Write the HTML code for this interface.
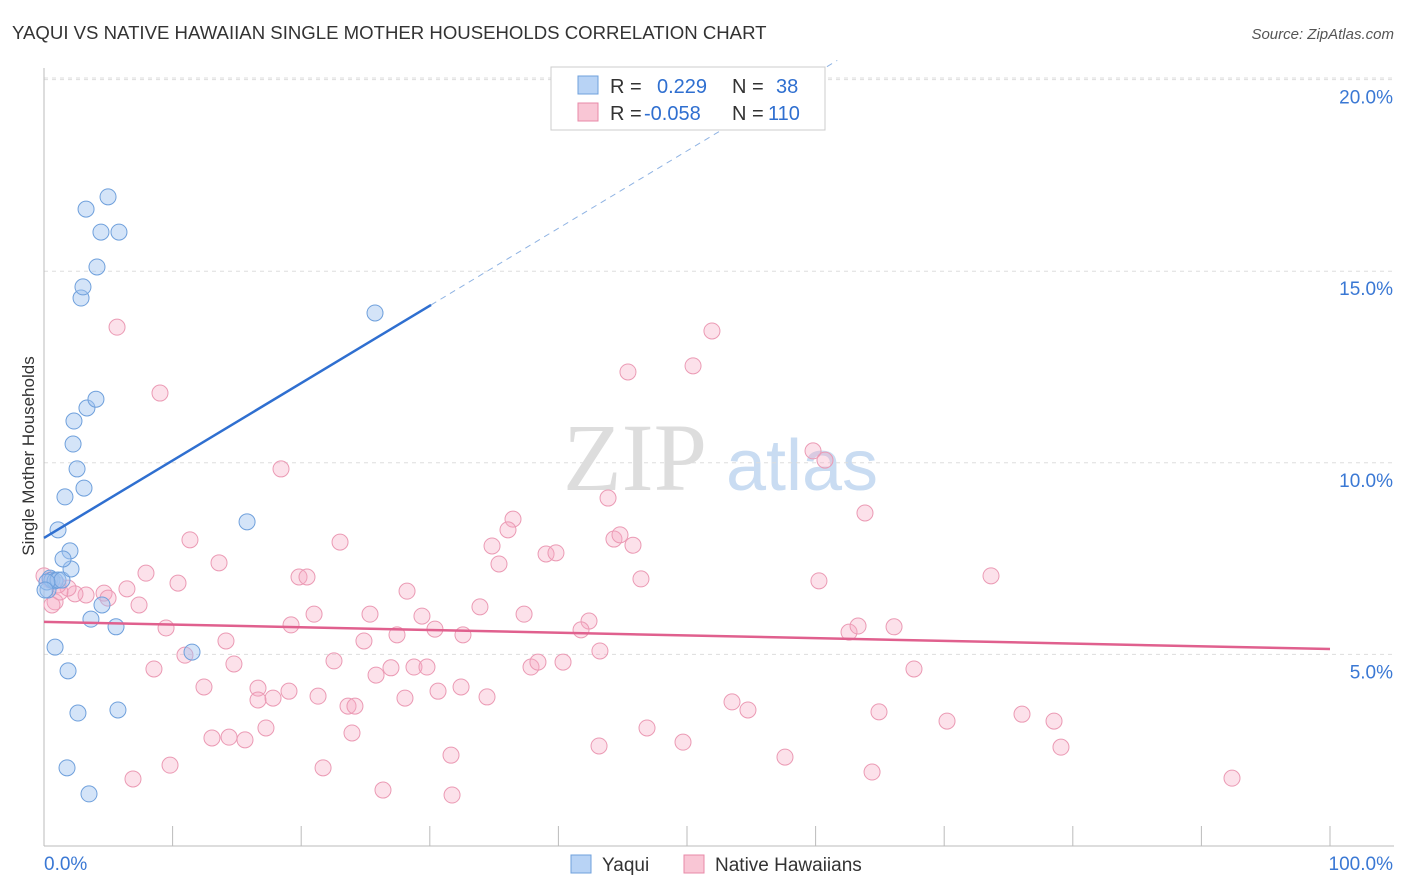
<!DOCTYPE html>
<html><head><meta charset="utf-8"><style>
body{margin:0;background:#fff;font-family:"Liberation Sans",sans-serif}
svg{display:block}
</style></head><body>
<svg id="chart" width="1406" height="892">
<text x="12" y="39" font-size="18.6" fill="#333">YAQUI VS NATIVE HAWAIIAN SINGLE MOTHER HOUSEHOLDS CORRELATION CHART</text>
<text x="1394" y="39" font-size="15" fill="#555" font-style="italic" text-anchor="end">Source: ZipAtlas.com</text>
<text x="34" y="456" font-size="17" fill="#333" text-anchor="middle" transform="rotate(-90 34 456)">Single Mother Households</text>
<text x="635" y="490" font-size="96" fill="#ddd" font-family="Liberation Serif" text-anchor="middle">ZIP</text>
<text x="802" y="490" font-size="72" fill="#c9dcf2" text-anchor="middle">atlas</text>
<g id="grid"></g><g id="marks"></g>
<g>
<rect x="551" y="67" width="274" height="63" fill="#fff" stroke="#ccc"/>
<rect x="578" y="76" width="20" height="18" fill="#b8d3f5" stroke="#6fa0dc"/>
<rect x="578" y="103" width="20" height="18" fill="#f9c6d5" stroke="#e88aa8"/>
<text x="610" y="93" font-size="20" fill="#333">R = <tspan fill="#2f6fd0" x="657">0.229</tspan><tspan x="732" fill="#333">N = </tspan><tspan fill="#2f6fd0" x="776">38</tspan></text>
<text x="610" y="120" font-size="20" fill="#333">R = <tspan fill="#2f6fd0" x="644">-0.058</tspan><tspan x="732" fill="#333">N = </tspan><tspan fill="#2f6fd0" x="768">110</tspan></text>
</g>
<g>
<rect x="571" y="855" width="20" height="18" fill="#b8d3f5" stroke="#6fa0dc"/>
<text x="602" y="871" font-size="19" fill="#333">Yaqui</text>
<rect x="684" y="855" width="20" height="18" fill="#f9c6d5" stroke="#e88aa8"/>
<text x="715" y="871" font-size="19" fill="#333">Native Hawaiians</text>
</g>
</svg>
<script>
const yTicks=[5,10,15,20];
const yTickLabels=["5.0%","10.0%","15.0%","20.0%"];
const xTickLabels=["0.0%","100.0%"];
const yaquiX=[0.31,0.47,0.62,0.86,1.09,1.40,0.23,0.86,1.87,2.64,1.79,3.50,5.75,5.60,3.65,4.51,2.10,2.02,1.48,1.09,1.63,3.11,2.57,2.26,2.33,3.34,4.04,2.88,3.03,4.12,4.43,5.83,3.27,4.98,25.74,15.79,11.51,0.08];
const yaquiY=[6.68,6.99,6.94,6.92,6.94,6.94,6.89,5.19,4.57,3.47,2.04,1.36,3.55,5.72,5.92,6.29,7.23,7.70,7.49,8.25,9.11,9.34,9.84,10.49,11.09,11.43,11.66,14.30,14.59,15.11,16.02,16.02,16.62,16.94,13.91,8.46,5.06,6.68];
const hawX=[5.68,9.02,18.43,51.94,45.41,50.47,59.80,60.73,43.86,63.84,36.47,36.08,44.32,44.79,45.80,34.84,39.04,39.81,35.38,23.02,11.35,13.61,7.93,10.42,6.45,4.67,4.98,7.39,3.27,2.41,1.87,0.86,0.62,1.24,0.47,19.83,20.45,28.23,46.42,60.26,73.64,21.00,25.35,29.39,33.90,37.33,42.38,41.76,30.40,32.58,27.45,24.88,19.21,14.15,9.49,8.55,14.77,10.96,22.55,26.98,28.77,29.78,25.82,37.87,38.41,40.36,43.23,62.60,63.30,66.10,67.65,12.44,16.64,16.64,19.05,17.81,21.31,23.64,24.18,28.07,30.64,32.43,34.45,53.50,54.74,64.93,70.22,76.05,78.54,79.08,13.06,14.39,15.63,17.26,23.95,31.65,43.16,46.89,49.69,57.62,64.39,92.38,6.92,9.80,21.70,26.36,31.73,0,1.09];
const hawY=[13.54,11.82,9.84,13.44,12.37,12.53,10.31,10.07,9.08,8.69,8.53,8.25,8.01,8.12,7.85,7.83,7.62,7.65,7.36,7.93,7.99,7.39,7.12,6.86,6.71,6.60,6.47,6.29,6.55,6.58,6.73,6.37,6.29,6.63,6.94,7.02,7.02,6.65,6.97,6.92,7.05,6.05,6.05,6.00,6.24,6.05,5.87,5.64,5.66,5.51,5.51,5.35,5.77,5.35,5.69,4.62,4.75,4.98,4.83,4.65,4.67,4.67,4.46,4.67,4.80,4.80,5.09,5.58,5.74,5.72,4.62,4.15,4.12,3.81,4.04,3.86,3.91,3.65,3.65,3.86,4.04,4.15,3.89,3.76,3.55,3.50,3.26,3.44,3.26,2.58,2.82,2.84,2.77,3.08,2.95,2.37,2.61,3.08,2.71,2.32,1.93,1.77,1.75,2.11,2.04,1.46,1.33,7.05,6.81];
const yaquiTrend=[8.04,0.202];
const hawTrend=[5.85,5.14];
const NS="http://www.w3.org/2000/svg";
const X=v=>44+v*12.86, Y=v=>846-v*38.32;
function mk(p,t,a){const e=document.createElementNS(NS,t);for(const k in a)e.setAttribute(k,a[k]);p.appendChild(e);return e;}
const gridG=document.getElementById('grid'), marksG=document.getElementById('marks');
yTicks.forEach((t,i)=>{
 const l=mk(gridG,'line',{x1:44,x2:1394,y1:Y(t),y2:Y(t),stroke:'#ddd','stroke-dasharray':'4,4'});
 
 
 const tx=mk(gridG,'text',{x:1393,y:Y(t)+24,'font-size':19,fill:'#3a78d4','text-anchor':'end'});
 tx.textContent=yTickLabels[i];
 
 
});
const topGrid=mk(gridG,'line',{x1:44,x2:1394,y1:78,y2:78,stroke:'#ddd','stroke-dasharray':'4,4'});


const axX=mk(gridG,'line',{x1:44,x2:1394,y1:846,y2:846,stroke:'#bbb'});


const axY=mk(gridG,'line',{x1:44,x2:44,y1:68,y2:846,stroke:'#bbb'});


for(let i=0;i<=10;i++){const t=mk(gridG,'line',{x1:X(i*10),x2:X(i*10),y1:826,y2:846,stroke:'#bbb'});
 
 }
xTickLabels.forEach((s,i)=>{const t=mk(gridG,'text',{x:i?1393:44,y:870,'font-size':19,fill:'#3a78d4','text-anchor':i?'end':'start'});t.textContent=s;
 
 });
hawX.forEach((x,i)=>{const c=mk(marksG,'circle',{cx:X(x),cy:Y(hawY[i]),r:8,fill:'rgba(245,170,195,0.35)',stroke:'#eb9ab4','stroke-width':1});
 
 });
yaquiX.forEach((x,i)=>{const c=mk(marksG,'circle',{cx:X(x),cy:Y(yaquiY[i]),r:8,fill:'rgba(160,195,240,0.45)',stroke:'#6fa0dc','stroke-width':1});
 
 });
const xe=30.1, xd=(20.5-yaquiTrend[0])/yaquiTrend[1];
const tl=mk(marksG,'line',{x1:X(0),y1:Y(yaquiTrend[0]),x2:X(xe),y2:Y(yaquiTrend[0]+yaquiTrend[1]*xe),stroke:'#2f6fd0','stroke-width':2.5});


const td=mk(marksG,'line',{x1:X(xe),y1:Y(yaquiTrend[0]+yaquiTrend[1]*xe),x2:X(xd),y2:Y(20.5),stroke:'#8fb3e3','stroke-width':1,'stroke-dasharray':'6,5'});


const pl=mk(marksG,'line',{x1:X(0),y1:Y(hawTrend[0]),x2:X(100),y2:Y(hawTrend[1]),stroke:'#e0608e','stroke-width':2.5});


</script>
</body></html>
